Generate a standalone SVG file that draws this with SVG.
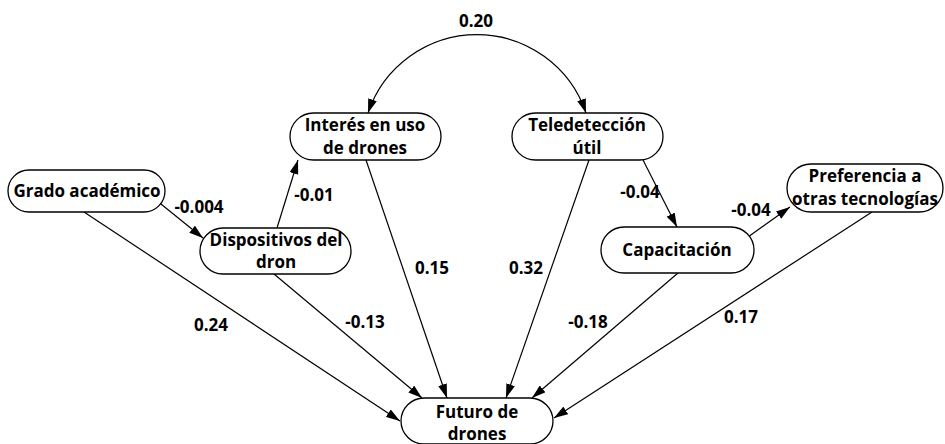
<svg xmlns="http://www.w3.org/2000/svg" width="945" height="444" viewBox="0 0 945 444">
<style>
.node rect{fill:#fff;stroke:#000;stroke-width:1.3}
text{font-family:"Open Sans","Liberation Sans",sans-serif;font-weight:bold;font-size:17px;fill:#000;text-anchor:middle}
.lbl{font-size:17px}
.edges path,.edges line{stroke:#000;stroke-width:1.2;fill:none}
</style>
<defs>
<marker id="ah" viewBox="0 0 14 9" refX="14" refY="4.5" markerWidth="14" markerHeight="9" markerUnits="userSpaceOnUse" orient="auto-start-reverse">
<path d="M0,0 L14,4.5 L0,9 Z" fill="#000"/>
</marker>
</defs>
<rect width="945" height="444" fill="#fff"/>
<g class="edges">
<path d="M368,113 A115,115 0 0 1 586,113" marker-start="url(#ah)" marker-end="url(#ah)"/>
<line x1="156" y1="200" x2="203" y2="238" marker-end="url(#ah)"/>
<line x1="277" y1="228" x2="298" y2="160" marker-end="url(#ah)"/>
<line x1="643" y1="160" x2="677" y2="227" marker-end="url(#ah)"/>
<line x1="748" y1="237" x2="790" y2="207" marker-end="url(#ah)"/>
<line x1="84" y1="212" x2="400" y2="421" marker-end="url(#ah)"/>
<line x1="274" y1="274" x2="422" y2="398" marker-end="url(#ah)"/>
<line x1="366" y1="160" x2="447" y2="398" marker-end="url(#ah)"/>
<line x1="589" y1="160" x2="506" y2="398" marker-end="url(#ah)"/>
<line x1="678" y1="273" x2="532" y2="398" marker-end="url(#ah)"/>
<line x1="872" y1="212" x2="554" y2="418" marker-end="url(#ah)"/>
</g>
<g class="labels">
<text class="lbl" x="476" y="27">0.20</text>
<text class="lbl" x="199" y="213">-0.004</text>
<text class="lbl" x="314" y="201">-0.01</text>
<text class="lbl" x="432" y="274">0.15</text>
<text class="lbl" x="526" y="274">0.32</text>
<text class="lbl" x="640" y="198">-0.04</text>
<text class="lbl" x="751" y="216">-0.04</text>
<text class="lbl" x="211" y="331">0.24</text>
<text class="lbl" x="365" y="328">-0.13</text>
<text class="lbl" x="588" y="328">-0.18</text>
<text class="lbl" x="741" y="323">0.17</text>
</g>
<g id="grado" class="node"><rect x="8" y="170" width="157" height="42" rx="21"/><text x="87" y="197">Grado académico</text></g>
<g id="dispositivos" class="node"><rect x="200" y="228" width="151" height="46" rx="23"/><text x="276" y="246">Dispositivos del</text><text x="276" y="268">dron</text></g>
<g id="interes" class="node"><rect x="290" y="113" width="151" height="47" rx="23.5"/><text x="365" y="131">Interés en uso</text><text x="365" y="154">de drones</text></g>
<g id="teledeteccion" class="node"><rect x="512" y="113" width="151" height="47" rx="23.5"/><text x="587" y="131">Teledetección</text><text x="587" y="154">útil</text></g>
<g id="capacitacion" class="node"><rect x="601" y="227" width="153" height="46" rx="23"/><text x="677" y="256">Capacitación</text></g>
<g id="preferencia" class="node"><rect x="787" y="164" width="156" height="48" rx="24"/><text x="865" y="182">Preferencia a</text><text x="865" y="205">otras tecnologías</text></g>
<g id="futuro" class="node"><rect x="401" y="398" width="152" height="46" rx="23"/><text x="477" y="418">Futuro de</text><text x="477" y="440">drones</text></g>
</svg>
